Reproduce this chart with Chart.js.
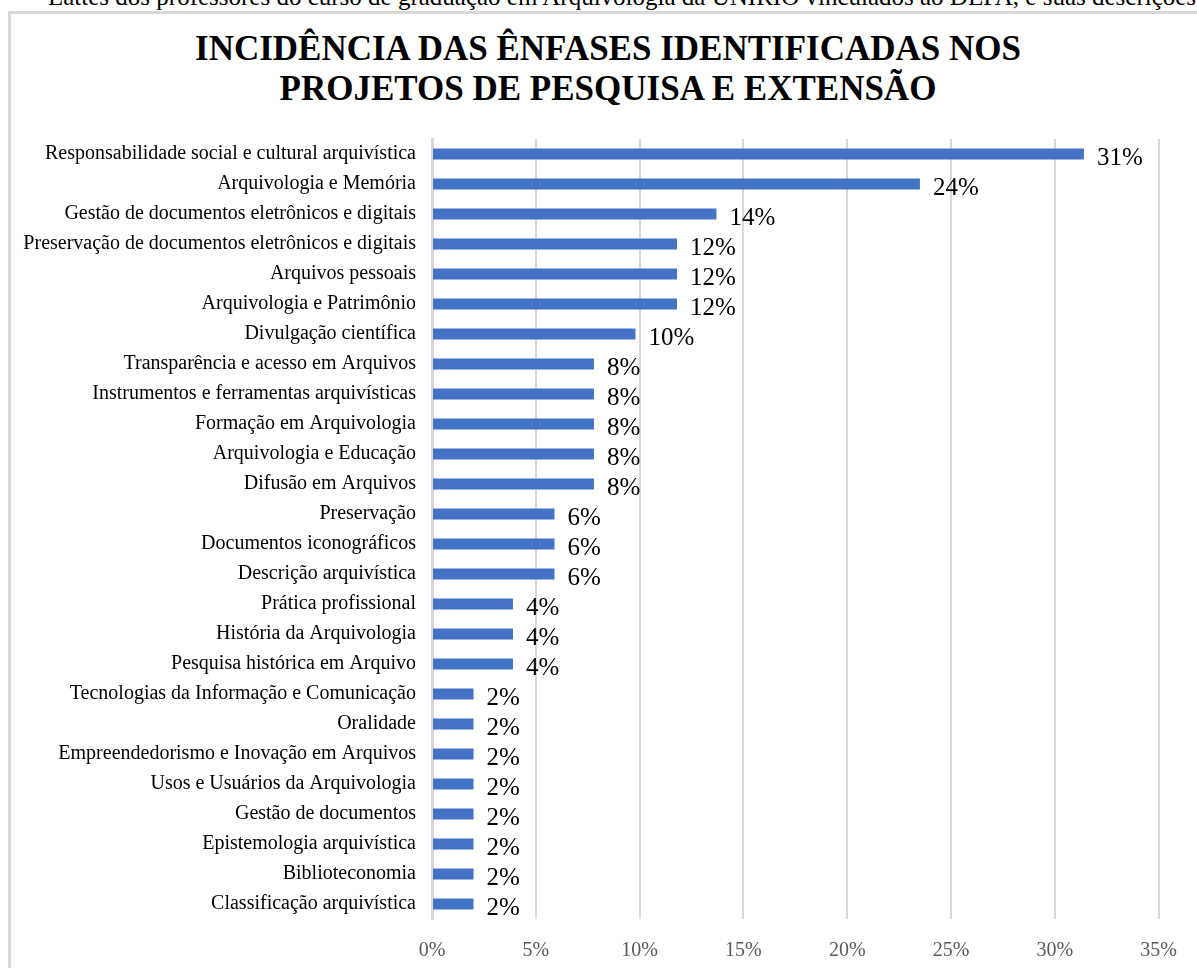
<!DOCTYPE html>
<html lang="pt">
<head>
<meta charset="utf-8">
<title>Incidência das ênfases</title>
<script src="https://cdn.jsdelivr.net/npm/chart.js@4"></script>
<style>
  html, body { margin: 0; padding: 0; background: #fff; }
  body { width: 1197px; height: 968px; position: relative; overflow: hidden; font-family: "Liberation Serif", serif; }
  .caption { position: absolute; left: 48px; top: -15px; font-size: 25px; line-height: 24px; white-space: nowrap; color: #000; }
  .frame { position: absolute; left: 8px; top: 11px; width: 1300px; height: 1100px; border-left: 3px solid #d9d9d9; border-top: 3px solid #d9d9d9; }
  .title { position: absolute; left: 0; width: 1216px; top: 29px; text-align: center; font-weight: bold; font-size: 35px; line-height: 40px; color: #000; }
  .chart-box { position: absolute; left: 0; top: 0; width: 1197px; height: 968px; }
</style>
</head>
<body>
<div class="caption">Lattes dos professores do curso de graduação em Arquivologia da UNIRIO vinculados ao DEPA, e suas descrições</div>
<div class="frame"></div>
<div class="title">INCIDÊNCIA DAS ÊNFASES IDENTIFICADAS NOS<br>PROJETOS DE PESQUISA E EXTENSÃO</div>
<div class="chart-box"><canvas id="chart"></canvas></div>
<script>
// Categories (top to bottom)
const categories = [
  'Responsabilidade social e cultural arquivística',
  'Arquivologia e Memória',
  'Gestão de documentos eletrônicos e digitais',
  'Preservação de documentos eletrônicos e digitais',
  'Arquivos pessoais',
  'Arquivologia e Patrimônio',
  'Divulgação científica',
  'Transparência e acesso em Arquivos',
  'Instrumentos e ferramentas arquivísticas',
  'Formação em Arquivologia',
  'Arquivologia e Educação',
  'Difusão em Arquivos',
  'Preservação',
  'Documentos iconográficos',
  'Descrição arquivística',
  'Prática profissional',
  'História da Arquivologia',
  'Pesquisa histórica em Arquivo',
  'Tecnologias da Informação e Comunicação',
  'Oralidade',
  'Empreendedorismo e Inovação em Arquivos',
  'Usos e Usuários da Arquivologia',
  'Gestão de documentos',
  'Epistemologia arquivística',
  'Biblioteconomia',
  'Classificação arquivística',
];

// Share of projects (%)
const values = [
  31.4, 23.5, 13.7, 11.8, 11.8, 11.8, 9.8,
  7.8, 7.8, 7.8, 7.8, 7.8,
  5.9, 5.9, 5.9,
  3.9, 3.9, 3.9,
  2.0, 2.0, 2.0, 2.0, 2.0, 2.0, 2.0, 2.0,
];

// X axis ticks
const tickMin = 0;
const tickMax = 35;
const tickStep = 5;

const barColor = '#4472C4';
const gridColor = '#d9d9d9';

// Value labels at the end of each bar
const barLabels = {
  id: 'barLabels',
  afterDatasetsDraw(chart) {
    const { ctx } = chart;
    const meta = chart.getDatasetMeta(0);
    ctx.save();
    ctx.font = '25px "Liberation Serif"';
    ctx.fillStyle = '#000';
    ctx.textAlign = 'left';
    ctx.textBaseline = 'middle';
    meta.data.forEach((bar, i) => {
      ctx.fillText(`${Math.round(values[i])}%`, bar.x + 13, bar.y + 4);
    });
    ctx.restore();
  },
};

new Chart(document.getElementById('chart'), {
  type: 'bar',
  data: {
    labels: categories,
    datasets: [
      {
        data: values,
        backgroundColor: barColor,
        borderWidth: 0,
        barPercentage: 0.73,
        categoryPercentage: 0.5,
      },
    ],
  },
  options: {
    indexAxis: 'y',
    responsive: true,
    maintainAspectRatio: false,
    animation: false,
    layout: { padding: { top: 139, right: 35, bottom: 0, left: 0 } },
    plugins: {
      legend: { display: false },
      tooltip: { enabled: false },
    },
    scales: {
      x: {
        min: tickMin,
        max: tickMax,
        ticks: {
          stepSize: tickStep,
          padding: 20,
          color: '#595959',
          font: { family: 'Liberation Serif', size: 20 },
          callback: (v) => `${v}%`,
        },
        grid: { color: gridColor, lineWidth: 2, drawTicks: false },
        border: { display: false },
        afterFit: (scale) => { scale.height = 49; },
      },
      y: {
        ticks: {
          padding: 16,
          color: '#000',
          autoSkip: false,
          font: { family: 'Liberation Serif', size: 20 },
        },
        grid: { display: false, drawTicks: false },
        border: { color: gridColor, width: 3 },
        afterFit: (scale) => { scale.width = 432; },
      },
    },
  },
  plugins: [barLabels],
});
</script>
</body>
</html>
